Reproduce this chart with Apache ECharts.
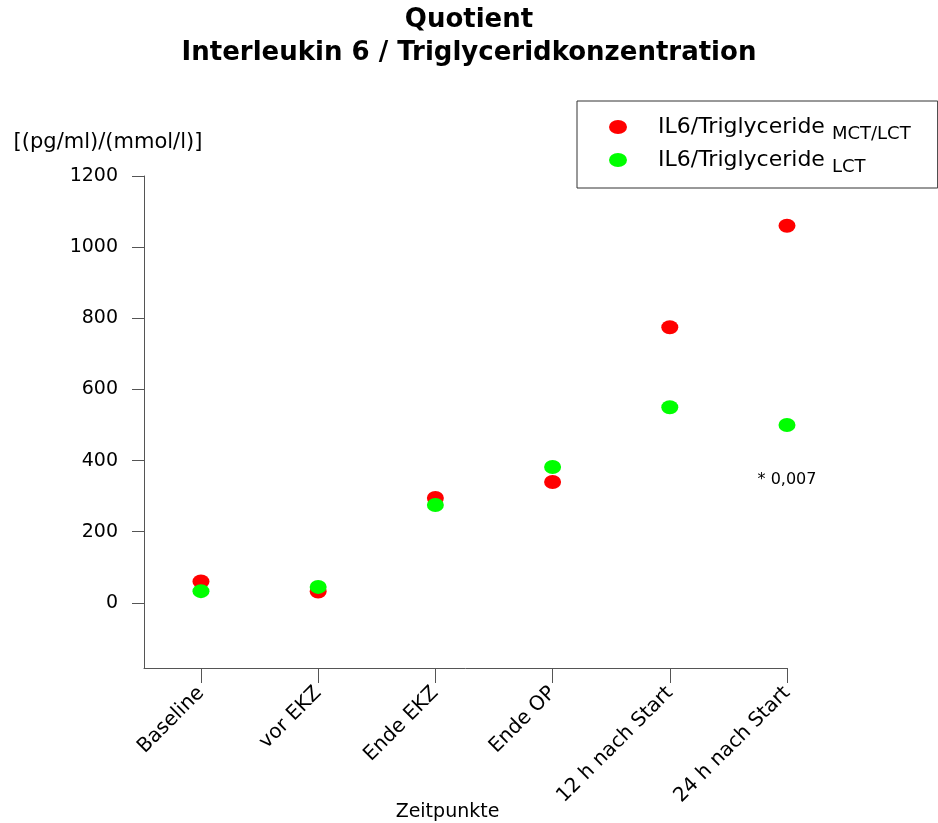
<!DOCTYPE html>
<html>
<head>
<meta charset="utf-8">
<script src="https://cdn.jsdelivr.net/npm/echarts@6/dist/echarts.min.js"></script>
<style>html,body{margin:0;padding:0;background:#fff;}#chart{width:938px;height:823px;}</style>
</head>
<body>
<div id="chart"></div>
<script>
const categories = ['Baseline', 'vor EKZ', 'Ende EKZ', 'Ende OP', '12 h nach Start', '24 h nach Start'];
const mctLct = [60, 32, 295, 340, 775, 1060];
const lct = [33, 45, 275, 382, 550, 500];
const yTicks = [0, 200, 400, 600, 800, 1000, 1200];
const annotationText = '* 0,007';
const annotationValue = 345;

const FONT = 'DejaVu Sans';
const axisColor = '#555';
const xIdx = categories.map((c, i) => i);

const chart = echarts.init(document.getElementById('chart'));
const ell = 'path://M0,7a9,7 0 1,0 18,0a9,7 0 1,0 -18,0Z';

chart.setOption({
  backgroundColor: '#fff',
  animation: false,
  title: {
    text: 'Quotient\nInterleukin 6 / Triglyceridkonzentration',
    left: 'center',
    top: 4,
    padding: 0,
    textStyle: { fontFamily: FONT, fontWeight: 'bold', fontSize: 26, lineHeight: 33, color: '#000' }
  },
  legend: {
    orient: 'vertical',
    left: 577,
    top: 101,
    padding: [15, 27, 12, 32],
    itemGap: 6,
    itemWidth: 70,
    itemHeight: 14,
    borderColor: '#333',
    borderWidth: 1,
    borderRadius: 0,
    data: [
      { name: 'IL6/Triglyceride MCT/LCT', icon: ell },
      { name: 'IL6/Triglyceride LCT', icon: ell }
    ],
    formatter: function (name) {
      const sub = name.replace('IL6/Triglyceride ', '');
      return '{a|IL6/Triglyceride }{b|' + sub + '}';
    },
    textStyle: {
      rich: {
        a: { fontFamily: FONT, fontSize: 22, color: '#000' },
        b: { fontFamily: FONT, fontSize: 18, color: '#000', padding: [14, 0, 0, 0] }
      }
    }
  },
  grid: { left: 144, right: 151, top: 176, bottom: 155, containLabel: false, outerBoundsMode: 'none' },
  xAxis: {
    type: 'value',
    min: -0.486,
    max: 5,
    splitLine: { show: false },
    axisLine: { show: true, onZero: false, lineStyle: { color: axisColor, width: 1 } },
    axisTick: { show: true, customValues: xIdx, length: 15, lineStyle: { color: axisColor } },
    axisLabel: {
      customValues: xIdx,
      rotate: 45,
      margin: 22,
      fontFamily: FONT,
      fontSize: 20,
      color: '#000',
      formatter: function (v) { return categories[Math.round(v)] || ''; }
    },
    name: 'Zeitpunkte',
    nameLocation: 'middle',
    nameGap: 135,
    nameMoveOverlap: false,
    nameTextStyle: { fontFamily: FONT, fontSize: 19, color: '#000', padding: [0, 36, 0, 0] }
  },
  yAxis: {
    type: 'value',
    min: -183,
    max: 1200,
    splitLine: { show: false },
    axisLine: { show: true, onZero: false, lineStyle: { color: axisColor, width: 1 } },
    axisTick: { show: true, customValues: yTicks, length: 12, lineStyle: { color: axisColor } },
    axisLabel: {
      customValues: yTicks, margin: 26, fontFamily: FONT, fontSize: 19, color: '#000',
      formatter: function (v) { return String(v); }
    },
    name: '[(pg/ml)/(mmol/l)]',
    nameLocation: 'end',
    nameGap: 23,
    nameTextStyle: { fontFamily: FONT, fontSize: 21, color: '#000', align: 'center', padding: [0, 72, 0, 0] }
  },
  series: [
    {
      name: 'IL6/Triglyceride MCT/LCT',
      type: 'scatter',
      symbol: 'circle',
      symbolSize: [17, 14],
      itemStyle: { color: '#ff0000', opacity: 1 },
      data: mctLct.map((v, i) => [i, v]),
      z: 2
    },
    {
      name: 'IL6/Triglyceride LCT',
      type: 'scatter',
      symbol: 'circle',
      symbolSize: [17, 14],
      itemStyle: { color: '#00ff00', opacity: 1 },
      data: lct.map((v, i) => [i, v]),
      z: 3,
      markPoint: {
        symbol: 'circle',
        symbolSize: 1,
        itemStyle: { color: 'transparent' },
        label: { show: true, position: 'inside', formatter: annotationText, fontFamily: FONT, fontSize: 16, color: '#000' },
        data: [{ coord: [categories.length - 1, annotationValue] }]
      }
    }
  ]
});
</script>
</body>
</html>
